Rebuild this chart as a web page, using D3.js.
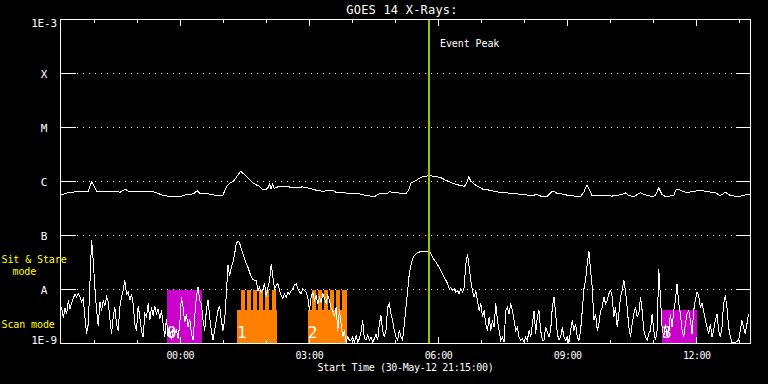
<!DOCTYPE html>
<html>
<head>
<meta charset="utf-8">
<script src="https://cdn.jsdelivr.net/npm/d3@7"></script>
<style>
  html, body { margin: 0; padding: 0; background: #000; }
  svg { display: block; background: #000; }
  text { font-family: 'DejaVu Sans Mono', monospace; fill: #fff; }
</style>
</head>
<body>
<svg width="768" height="384"></svg>
<script>
// time window of the plot and the event
var startTime = '2012-05-30T21:15:00Z'
var domainStart = '2012-05-30T21:13:54Z'
var domainEnd = '2012-05-31T13:15:30Z'
var peakTime = '2012-05-31T05:47:30Z'

var levelValues = [1e-9, 1e-8, 1e-7, 1e-6, 1e-5, 1e-4, 1e-3]
var levelLabels = ['1E-9', 'A', 'B', 'C', 'M', 'X', '1E-3']

// 1-8 A channel: [minutes after start, log10 flux W/m2]
var longChannel = [
  [0, -6.24], [5.2, -6.23], [9.8, -6.20], [37.6, -6.18], [42.4, -6.00], [49.3, -6.18],
  [74.8, -6.18], [81.8, -6.20], [89.2, -6.14], [93.0, -6.18], [126.0, -6.18], [133.0, -6.21],
  [142.2, -6.26], [153.9, -6.28], [165.4, -6.28], [174.8, -6.24], [184.0, -6.23], [189.5, -6.17],
  [193.3, -6.22], [204.9, -6.23], [216.6, -6.26], [224.9, -6.26], [230.5, -6.09], [235.1, -6.03],
  [239.7, -6.00], [250.0, -5.81], [258.4, -5.91], [267.6, -6.03], [271.4, -6.06], [276.0, -6.09],
  [280.7, -6.15], [285.3, -6.15], [288.5, -6.11], [290.4, -6.04], [292.3, -6.13], [294.6, -6.04],
  [296.9, -6.13], [301.6, -6.10], [317.8, -6.10], [320.1, -6.12], [336.4, -6.10], [341.0, -6.11],
  [355.0, -6.16], [364.3, -6.18], [378.3, -6.16], [382.9, -6.20], [392.2, -6.21], [406.1, -6.22],
  [415.3, -6.23], [424.7, -6.26], [436.2, -6.28], [443.2, -6.23], [454.9, -6.22], [457.1, -6.19],
  [466.5, -6.21], [480.4, -6.22], [484.2, -6.16], [487.4, -6.03], [493.4, -5.99], [498.9, -5.94],
  [503.7, -5.91], [512.9, -5.89], [522.2, -5.91], [529.2, -5.93], [536.2, -5.98], [545.5, -6.03],
  [554.7, -6.07], [561.7, -6.09], [565.0, -6.03], [567.8, -5.91], [571.0, -6.00], [578.0, -6.07],
  [587.3, -6.14], [596.5, -6.16], [610.4, -6.20], [628.1, -6.22], [656.0, -6.26], [663.0, -6.24],
  [669.9, -6.28], [676.9, -6.28], [683.9, -6.18], [686.3, -6.18], [690.9, -6.22], [697.8, -6.23],
  [707.2, -6.26], [723.3, -6.28], [728.1, -6.20], [732.7, -6.06], [736.4, -6.16], [739.6, -6.26],
  [753.6, -6.26], [767.5, -6.27], [781.4, -6.24], [786.0, -6.21], [790.8, -6.26], [797.8, -6.28],
  [806.9, -6.21], [811.7, -6.24], [823.3, -6.28], [827.9, -6.26], [832.6, -6.12], [837.2, -6.24],
  [841.8, -6.28], [853.5, -6.26], [857.1, -6.14], [862.7, -6.16], [869.7, -6.20], [881.4, -6.19],
  [888.3, -6.16], [897.5, -6.18], [911.5, -6.21], [918.5, -6.26], [925.4, -6.20], [932.4, -6.26],
  [944.1, -6.28], [953.3, -6.25], [960.8, -6.24]
]

// 0.5-4 A channel, evenly sampled: log10 flux W/m2
var shortStartMin = 0.5
var shortStepMin = 2.318
var shortLog = [
  -8.33, -8.52, -8.35, -8.45, -8.20, -8.36, -8.25, -8.17, -8.08, -8.14,
  -8.07, -8.14, -8.23, -8.17, -8.51, -8.82, -8.64, -7.89, -7.09, -7.46,
  -7.99, -8.39, -8.67, -8.23, -8.39, -8.20, -8.30, -8.14, -8.23, -8.54,
  -8.82, -8.51, -8.33, -8.64, -8.76, -8.33, -8.14, -8.02, -7.83, -8.08,
  -8.05, -8.20, -8.08, -8.26, -8.64, -8.76, -8.30, -8.51, -8.76, -8.88,
  -8.45, -8.51, -8.26, -8.57, -8.33, -8.48, -8.30, -8.45, -8.36, -8.54,
  -8.39, -8.64, -8.88, -8.54, -8.88, -8.76, -8.94, -8.73, -8.82, -8.76,
  -8.91, -8.64, -8.14, -8.33, -8.60, -8.45, -8.70, -8.54, -8.82, -8.94,
  -8.51, -8.14, -7.96, -8.20, -8.26, -8.57, -8.76, -8.39, -8.20, -8.51,
  -8.76, -8.94, -8.76, -8.57, -8.39, -8.30, -8.57, -8.76, -8.57, -8.08,
  -7.55, -7.74, -7.59, -7.49, -7.34, -7.15, -7.10, -7.14, -7.25, -7.34,
  -7.43, -7.52, -7.59, -7.68, -7.77, -7.82, -7.83,
  -7.83, -8.02, -7.96, -8.05, -7.99, -7.89, -8.14, -7.96, -7.83, -7.52,
  -7.77, -7.99, -7.92, -7.89, -8.02, -8.11, -8.17, -8.08, -8.14, -8.05,
  -8.08, -8.02, -7.99, -7.92, -7.89, -7.99, -8.05, -8.08, -7.99, -8.02,
  -8.05, -8.14, -8.39, -8.14, -8.05, -8.20, -8.11, -8.26, -8.14, -8.23,
  -8.08, -8.17, -8.26, -8.11, -8.20, -8.33, -8.39, -8.51, -8.33, -8.76,
  -8.39, -8.64, -8.88, -8.76, -8.98, -8.88, -8.94, -8.94, -8.88, -8.98,
  -8.85, -8.98, -8.91, -8.79, -8.57, -8.91, -8.94, -8.85, -8.94, -8.88,
  -8.98, -8.91, -8.82, -8.94, -8.64, -8.48, -8.76, -8.88, -8.76, -8.33,
  -8.26, -8.45, -8.57, -8.76, -8.88, -8.94, -8.76, -8.88, -8.94, -8.64,
  -8.33, -8.02, -7.71, -7.55, -7.43, -7.37, -7.34, -7.32, -7.31, -7.29,
  -7.29, -7.29, -7.29, -7.29, -7.29, -7.34, -7.40, -7.45, -7.49, -7.54,
  -7.59, -7.65, -7.71, -7.77, -7.83, -7.89, -7.99, -7.96, -8.02, -7.99,
  -8.05, -8.02, -8.08, -7.99, -8.05, -7.96, -7.52, -7.35, -7.59, -7.83,
  -8.02, -8.14, -8.02, -8.20, -8.39, -8.26, -8.51, -8.39, -8.64, -8.76,
  -8.51, -8.76, -8.57, -8.70, -8.26, -8.57, -8.76, -8.94, -8.88, -8.98,
  -8.39, -8.33, -8.45, -8.26,
  -8.39, -8.57, -8.76, -8.70, -8.88, -8.94, -8.91, -8.98, -8.88, -8.94,
  -8.76, -8.88, -8.64, -8.39, -8.82, -8.51, -8.39, -8.76, -8.94, -8.94,
  -8.70, -8.79, -8.88, -8.76, -8.33, -8.14, -8.45, -8.82, -8.94, -8.88,
  -8.70, -8.88, -8.94, -8.88, -8.98, -8.76, -8.57, -8.76, -8.64, -8.88,
  -8.94, -8.76, -8.39, -7.99, -7.83, -7.52, -7.28, -7.65, -7.96, -8.57,
  -8.45, -8.76, -8.64, -8.39, -8.33, -8.14, -8.26, -8.20, -8.08, -8.02,
  -8.14, -8.51, -8.33, -8.70, -8.45, -8.14, -8.02, -7.83, -8.02, -8.33,
  -8.70, -8.88, -8.64, -8.45, -8.33, -8.51, -8.45, -8.14, -8.39, -8.76,
  -8.88, -8.94, -8.82, -8.76, -8.45, -8.76, -8.94, -8.76, -7.63, -8.14,
  -8.70, -8.88, -8.64, -8.88, -8.76, -8.45, -8.70, -8.39, -8.20, -7.89,
  -8.26, -8.45, -8.76, -8.88, -8.64, -8.45, -8.39, -8.57, -8.82, -8.39,
  -8.20, -8.05, -8.11, -8.33, -8.26, -8.39, -8.57, -8.70, -8.82, -8.64,
  -8.88, -8.76, -8.57, -8.45, -8.76, -8.88, -8.70, -8.26, -8.11, -8.33,
  -8.70, -8.88, -8.98, -8.98, -8.98, -8.96, -8.94, -8.76, -8.57, -8.70,
  -8.82, -8.64, -8.45
]

// observing runs: minutes after start
var modeLevels = {stare: 1e-8, scan: 4.1e-9}
var runFrom = [146.9, 244.9, 343.4, 837.2]
var runTo = [196.1, 300.2, 398.2, 886.0]
var runMode = ['stare', 'scan', 'scan', 'scan']
var runColor = ['#cc00cc', '#ff8000', '#ff8000', '#cc00cc']
var runLabel = ['0', '1', '2', '3']

// short sit & stare bursts inside the orange runs
var burstFrom = [249.8, 258.4, 267.0, 275.7, 284.3, 293.0, 348.7, 357.3, 366.0, 374.6, 383.3, 391.9]
var burstTo = [255.4, 264.0, 272.6, 281.3, 289.9, 298.6, 354.3, 362.9, 371.6, 380.2, 388.9, 397.5]

;(function (d3) {
  var svg = d3.select('svg')
  var t0 = Date.parse(startTime)
  function at (min) { return new Date(t0 + min * 60000) }

  var x = d3.scaleUtc()
    .domain([new Date(domainStart), new Date(domainEnd)])
    .range([60.5, 750.5])
  var y = d3.scaleLog()
    .domain([1e-9, 1e-3])
    .range([343.5, 19.5])
    .clamp(true)

  var x0 = x.range()[0]
  var x1 = x.range()[1]
  var yb = y.range()[0]
  var yt = y.range()[1]

  svg.append('clipPath').attr('id', 'plot')
    .append('rect')
    .attr('x', x0).attr('y', yt)
    .attr('width', x1 - x0).attr('height', yb - yt)

  var plot = svg.append('g').attr('clip-path', 'url(#plot)')

  // observing runs
  var runs = runFrom.map(function (d, i) {
    return {from: d, to: runTo[i], mode: runMode[i], color: runColor[i], label: runLabel[i]}
  })
  plot.selectAll('rect.run')
    .data(runs)
    .enter()
    .append('rect')
    .attr('class', 'run')
    .attr('x', function (d) { return x(at(d.from)) })
    .attr('width', function (d) { return x(at(d.to)) - x(at(d.from)) })
    .attr('y', function (d) { return y(modeLevels[d.mode]) })
    .attr('height', function (d) { return yb - y(modeLevels[d.mode]) })
    .style('fill', function (d) { return d.color })
    .style('shape-rendering', 'crispEdges')

  plot.selectAll('rect.burst')
    .data(burstFrom)
    .enter()
    .append('rect')
    .attr('class', 'burst')
    .attr('x', function (d) { return x(at(d)) })
    .attr('width', function (d, i) { return x(at(burstTo[i])) - x(at(d)) })
    .attr('y', y(modeLevels.stare))
    .attr('height', yb - y(modeLevels.stare))
    .style('fill', '#ff8000')
    .style('shape-rendering', 'crispEdges')

  plot.selectAll('text.run')
    .data(runs)
    .enter()
    .append('text')
    .attr('class', 'run')
    .attr('x', function (d) { return x(at(d.from)) })
    .attr('y', yb - 5.5)
    .style('font-size', '16px')
    .text(function (d) { return d.label })

  // grid
  var grid = svg.append('g')
  grid.selectAll('line.dot')
    .data(levelValues.slice(1, -1))
    .enter()
    .append('line')
    .attr('x1', x0 + 16.5).attr('x2', x1 - 15)
    .attr('y1', function (d) { return y(d) })
    .attr('y2', function (d) { return y(d) })
    .style('stroke', '#fff')
    .style('stroke-dasharray', '1 5')
    .style('shape-rendering', 'crispEdges')

  grid.selectAll('line.lt')
    .data(levelValues)
    .enter()
    .append('line')
    .attr('x1', x0 - 0.5).attr('x2', x0 + 15)
    .attr('y1', function (d) { return y(d) })
    .attr('y2', function (d) { return y(d) })
    .style('stroke', '#fff')
    .style('shape-rendering', 'crispEdges')

  grid.selectAll('line.rt')
    .data(levelValues)
    .enter()
    .append('line')
    .attr('x1', x1 - 15).attr('x2', x1 + 0.5)
    .attr('y1', function (d) { return y(d) })
    .attr('y2', function (d) { return y(d) })
    .style('stroke', '#fff')
    .style('shape-rendering', 'crispEdges')

  // flux curves
  var longLine = d3.line()
    .x(function (d) { return x(at(d[0])) })
    .y(function (d) { return y(Math.pow(10, d[1])) })

  var shortLine = d3.line()
    .x(function (d, i) { return x(at(shortStartMin + i * shortStepMin)) })
    .y(function (d) { return y(Math.pow(10, d)) })

  plot.append('path')
    .attr('d', longLine(longChannel))
    .style('fill', 'none')
    .style('stroke', '#fff')
    .style('stroke-width', 1)
    .style('shape-rendering', 'crispEdges')

  plot.append('path')
    .attr('d', shortLine(shortLog))
    .style('fill', 'none')
    .style('stroke', '#fff')
    .style('stroke-width', 1)
    .style('shape-rendering', 'crispEdges')

  // event peak
  var xp = x(new Date(peakTime))
  svg.append('line')
    .attr('x1', xp).attr('x2', xp)
    .attr('y1', yt).attr('y2', yb)
    .style('stroke', '#96c800')
    .style('stroke-width', 2)
    .style('shape-rendering', 'crispEdges')
  svg.append('text')
    .attr('x', xp + 11).attr('y', 47)
    .style('font-size', '10px')
    .style('letter-spacing', '-0.1px')
    .text('Event Peak')

  // frame
  svg.append('rect')
    .attr('x', x0).attr('y', yt)
    .attr('width', x1 - x0).attr('height', yb - yt)
    .style('fill', 'none')
    .style('stroke', '#fff')
    .style('shape-rendering', 'crispEdges')

  // time ticks, inward on top and bottom
  var hours = x.ticks(d3.utcHour.every(1))
  var majors = x.ticks(d3.utcHour.every(3))

  function tickAxis (axis, ty, vals, size) {
    var g = svg.append('g')
      .attr('transform', 'translate(0,' + ty + ')')
      .call(axis(x).tickValues(vals).tickSize(size).tickFormat(''))
    g.select('.domain').remove()
    g.selectAll('line').style('stroke', '#fff').style('shape-rendering', 'crispEdges')
  }
  tickAxis(d3.axisBottom, yt, hours, 3.5)
  tickAxis(d3.axisBottom, yt, majors, 6.5)
  tickAxis(d3.axisTop, yb, hours, 3.5)
  tickAxis(d3.axisTop, yb, majors, 6.5)

  var xLabels = svg.append('g')
    .attr('transform', 'translate(0,' + yb + ')')
    .call(d3.axisBottom(x).tickValues(majors).tickSize(0).tickPadding(8)
      .tickFormat(d3.utcFormat('%H:%M')))
  xLabels.select('.domain').remove()
  xLabels.selectAll('text')
    .attr('fill', '#fff')
    .style('font-family', "'DejaVu Sans Mono', monospace")
    .style('font-size', '10px')
    .style('letter-spacing', '-0.5px')

  // level labels
  svg.selectAll('text.lvl')
    .data(levelValues)
    .enter()
    .append('text')
    .attr('class', 'lvl')
    .attr('x', 44)
    .attr('y', function (d) { return Math.max(yt + 7.5, Math.min(yb, y(d) + 4)) })
    .attr('text-anchor', 'middle')
    .style('font-size', '11px')
    .style('letter-spacing', '-0.2px')
    .text(function (d, i) { return levelLabels[i] })

  // titles
  svg.append('text')
    .attr('x', 402).attr('y', 14)
    .attr('text-anchor', 'middle')
    .style('font-size', '12px')
    .style('letter-spacing', '0.2px')
    .text('GOES 14 X-Rays:')

  svg.append('text')
    .attr('x', 405.5).attr('y', 371)
    .attr('text-anchor', 'middle')
    .style('font-size', '10px')
    .style('letter-spacing', '-0.35px')
    .text('Start Time (30-May-12 21:15:00)')

  // mode key
  var key = svg.append('g').style('font-size', '10px').style('letter-spacing', '-0.1px')
  key.append('text').attr('x', 1.5).attr('y', 263).style('fill', '#ffff00').text('Sit & Stare')
  key.append('text').attr('x', 12.5).attr('y', 275).style('fill', '#ffff00').text('mode')
  key.append('text').attr('x', 1.5).attr('y', 328).style('fill', '#ffff00').text('Scan mode')
})(window.d3)
</script>
</body>
</html>
